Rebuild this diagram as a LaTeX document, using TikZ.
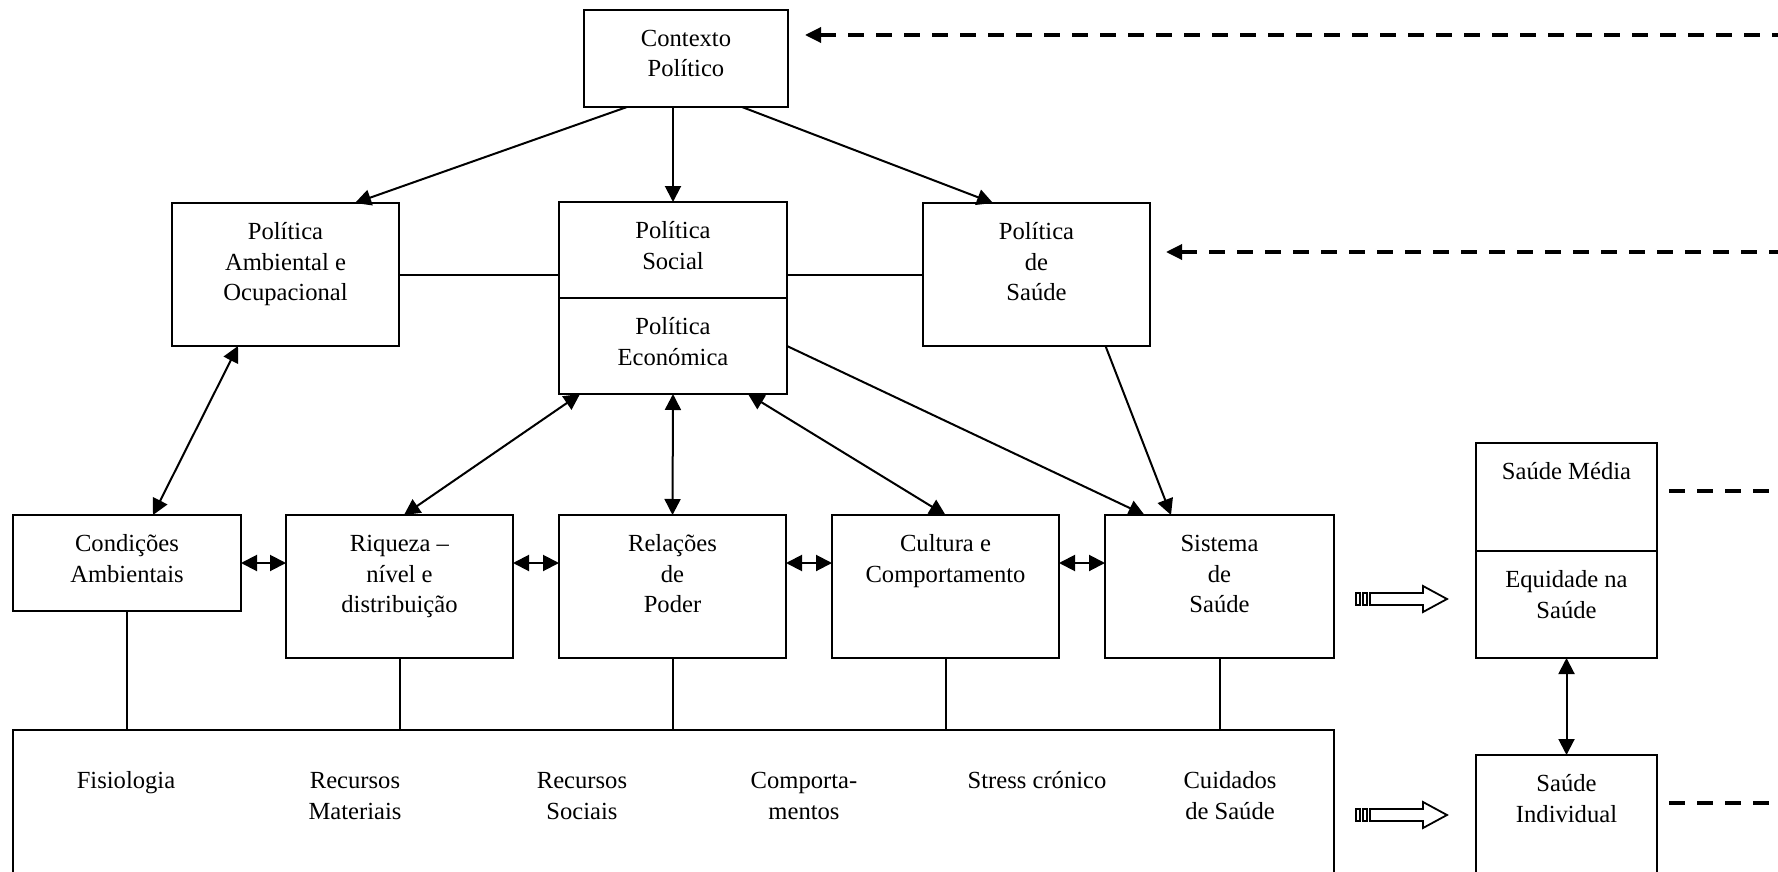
\documentclass[tikz,border=0pt]{standalone}
\usepackage{fontspec}
\setmainfont{Liberation Serif}
\usetikzlibrary{arrows.meta,calc}
\begin{document}
\begin{tikzpicture}[x=0.5pt,y=-0.5pt,
  frame/.style={draw,line width=1pt,rectangle,inner sep=0pt,outer sep=0pt},
  lbl/.style={align=center,inner sep=0pt,anchor=north,font=\fontsize{12.3}{15.3}\selectfont},
  link/.style={line width=1pt},
  arr/.style={line width=1pt,-{Triangle[length=8pt,width=8pt]}},
  biarr/.style={line width=1pt,{Triangle[length=8pt,width=8pt]}-{Triangle[length=8pt,width=8pt]}},
  feedback/.style={line width=1.7pt,dash pattern=on 8pt off 6pt},
  fbarrow/.style={feedback,{Triangle[length=8pt,width=7.5pt]}-},
  hollowarrow/.pic={
    \draw[line width=0.9pt] (0,-6) rectangle (4,6);
    \draw[line width=0.9pt] (7,-6) rectangle (11,6);
    \draw[line width=0.9pt] (14,-6) -- (67,-6) -- (67,-13) -- (91,0) -- (67,13) -- (67,6) -- (14,6) -- cycle;
  }]
\useasboundingbox (0,0) rectangle (1778,872);
\fill[white] (0,0) rectangle (1778,872);
\clip (0,0) rectangle (1778,872);

% policy level
\node[frame,minimum width=102pt,minimum height=48.5pt] (ctx) at (686,58.5) {};
\node[frame,minimum width=113.5pt,minimum height=71.5pt] (amb) at (285.5,274.5) {};
\node[frame,minimum width=114pt,minimum height=48pt] (soc) at (673,250) {};
\node[frame,minimum width=114pt,minimum height=48pt] (eco) at (673,346) {};
\node[frame,minimum width=113.5pt,minimum height=71.5pt] (sau) at (1036.5,274.5) {};

% structural determinants
\node[frame,minimum width=114pt,minimum height=48pt] (cond) at (127,563) {};
\node[frame,minimum width=113.5pt,minimum height=71.5pt] (riq) at (399.5,586.5) {};
\node[frame,minimum width=113.5pt,minimum height=71.5pt] (rel) at (672.5,586.5) {};
\node[frame,minimum width=113.5pt,minimum height=71.5pt] (cul) at (945.5,586.5) {};
\node[frame,minimum width=114.5pt,minimum height=71.5pt] (sis) at (1219.5,586.5) {};

% intermediate determinants
\node[frame,minimum width=660.5pt,minimum height=85pt] (det) at (673.5,815) {};

% outcomes
\node[frame,minimum width=90.5pt,minimum height=54pt] (smed) at (1566.5,497) {};
\node[frame,minimum width=90.5pt,minimum height=53.5pt] (eq) at (1566.5,604.5) {};
\node[frame,minimum width=90.5pt,minimum height=72.5pt] (ind) at (1566.5,827.5) {};

% box labels
\node[lbl] (ctx-t) at ([yshift=-7.29pt]ctx.north) {\strut Contexto\\Político};
\node[lbl] (amb-t) at ([yshift=-7.29pt]amb.north) {\strut Política\\Ambiental e\\Ocupacional};
\node[lbl] (soc-t) at ([yshift=-7.29pt]soc.north) {\strut Política\\Social};
\node[lbl] (eco-t) at ([yshift=-7.29pt]eco.north) {\strut Política\\Económica};
\node[lbl] (sau-t) at ([yshift=-7.29pt]sau.north) {\strut Política\\de\\Saúde};
\node[lbl] (cond-t) at ([yshift=-7.29pt]cond.north) {\strut Condições\\Ambientais};
\node[lbl] (riq-t) at ([yshift=-7.29pt]riq.north) {\strut Riqueza –\\nível e\\distribuição};
\node[lbl] (rel-t) at ([yshift=-7.29pt]rel.north) {\strut Relações\\de\\Poder};
\node[lbl] (cul-t) at ([yshift=-7.29pt]cul.north) {\strut Cultura e\\Comportamento};
\node[lbl] (sis-t) at ([yshift=-7.29pt]sis.north) {\strut Sistema\\de\\Saúde};
\node[lbl] (smed-t) at ([yshift=-7.29pt]smed.north) {\strut Saúde Média};
\node[lbl] (eq-t) at ([yshift=-7.29pt]eq.north) {\strut Equidade na\\Saúde};
\node[lbl] (ind-t) at ([yshift=-7.29pt]ind.north) {\strut Saúde\\Individual};

% labels inside the intermediate determinants box
\node[lbl] (fis) at (126,766.6) {\strut Fisiologia};
\node[lbl] (rmat) at (355,766.6) {\strut Recursos\\Materiais};
\node[lbl] (rsoc) at (582,766.6) {\strut Recursos\\Sociais};
\node[lbl] (comp) at (804,766.6) {\strut Comporta-\\mentos};
\node[lbl] (stress) at (1037,766.6) {\strut Stress crónico};
\node[lbl] (cuid) at (1230,766.6) {\strut Cuidados\\de Saúde};

% political context to policies
\draw[arr] ($(ctx.south)+(-59,0)$) -- ($(amb.north)+(69.5,0)$);
\draw[arr] (soc.north |- ctx.south) -- (soc.north);
\draw[arr] ($(ctx.south)+(56,0)$) -- ($(sau.north)+(-43.5,0)$);
\draw[link] (amb.east) -- (soc.west |- amb.east);
\draw[link] (soc.east |- sau.west) -- (sau.west);

% policies to structural determinants
\draw[biarr] ($(amb.south)+(-47.5,0)$) -- ($(cond.north)+(26,0)$);
\draw[biarr] ($(eco.south)+(-93,0)$) -- ($(riq.north)+(4.5,0)$);
\draw[biarr] (eco.south) -- (rel.north);
\draw[biarr] ($(eco.south)+(75,0)$) -- (cul.north);
\draw[arr] (eco.east) -- ($(sis.north)+(-75,0)$);
\draw[arr] ($(sau.south)+(69,0)$) -- ($(sis.north)+(-48.5,0)$);

% links along the structural row
\draw[biarr] (cond.east) -- (riq.west |- cond.east);
\draw[biarr] (riq.east |- cond.east) -- (rel.west |- cond.east);
\draw[biarr] (rel.east |- cond.east) -- (cul.west |- cond.east);
\draw[biarr] (cul.east |- cond.east) -- (sis.west |- cond.east);
\foreach \bx in {cond,riq,rel,cul,sis}
  \draw[link] (\bx.south) -- (\bx.south |- det.north);

% outcomes
\draw[biarr] (eq.south) -- (ind.north);
\pic at (1356,599) {hollowarrow};
\pic at (1356,815) {hollowarrow};

% feedback lines
\coordinate (fb1-in) at (805,35);
\coordinate (fb1-out) at (1790,35);
\coordinate (fb2-in) at (1166,252);
\coordinate (fb2-out) at (1790,252);
\coordinate (fb3-in) at (1669,491);
\coordinate (fb3-out) at (1790,491);
\coordinate (fb4-in) at (1669,803);
\coordinate (fb4-out) at (1790,803);
\draw[fbarrow] (fb1-in) -- (fb1-out);
\draw[fbarrow] (fb2-in) -- (fb2-out);
\draw[feedback] (fb3-in) -- (fb3-out);
\draw[feedback] (fb4-in) -- (fb4-out);
\end{tikzpicture}
\end{document}
